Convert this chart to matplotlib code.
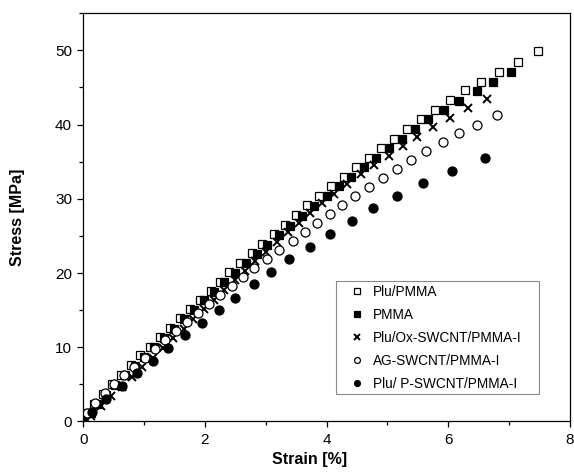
import matplotlib.pyplot as plt
from matplotlib.patches import Rectangle
from matplotlib.ticker import MultipleLocator

plt.rcParams['font.family'] = ['Liberation Sans', 'DejaVu Sans']

# Plu/PMMA (open squares)
plu_pmma_x = [0, 0.08, 0.18, 0.32, 0.47, 0.62, 0.78, 0.94, 1.10, 1.26, 1.43, 1.59, 1.75, 1.92, 2.10, 2.25,
              2.40, 2.58, 2.77, 2.94, 3.13, 3.32, 3.50, 3.68, 3.88, 4.07, 4.28, 4.48, 4.69, 4.89, 5.10,
              5.32, 5.55, 5.78, 6.03, 6.28, 6.54, 6.84, 7.15, 7.47]
plu_pmma_y = [0, 1.2, 2.4, 3.7, 5.0, 6.3, 7.6, 8.9, 10.1, 11.4, 12.6, 13.9, 15.1, 16.4, 17.6, 18.8,
              20.1, 21.4, 22.7, 23.9, 25.2, 26.5, 27.8, 29.1, 30.4, 31.7, 32.9, 34.3, 35.5, 36.9, 38.1,
              39.4, 40.7, 42.0, 43.3, 44.6, 45.8, 47.1, 48.4, 49.9]

# PMMA (filled squares)
pmma_x = [0, 0.12, 0.24, 0.38, 0.53, 0.69, 0.85, 1.00, 1.17, 1.33, 1.49, 1.66, 1.82, 1.99, 2.15, 2.32,
          2.49, 2.67, 2.85, 3.02, 3.21, 3.40, 3.60, 3.80, 4.00, 4.21, 4.40, 4.61, 4.81, 5.02, 5.24,
          5.46, 5.67, 5.93, 6.18, 6.48, 6.74, 7.03]
pmma_y = [0, 1.1, 2.3, 3.6, 4.9, 6.2, 7.5, 8.7, 10.0, 11.3, 12.5, 13.8, 15.0, 16.3, 17.5, 18.8,
          20.0, 21.3, 22.6, 23.8, 25.1, 26.4, 27.7, 29.0, 30.4, 31.7, 32.9, 34.3, 35.5, 36.8, 38.1,
          39.4, 40.7, 41.9, 43.2, 44.5, 45.8, 47.1]

# Plu/Ox-SWCNT/PMMA-I (crosses)
ox_x = [0, 0.12, 0.29, 0.46, 0.63, 0.80, 0.97, 1.14, 1.31, 1.48, 1.65, 1.81, 1.98, 2.15, 2.32, 2.49,
        2.66, 2.83, 3.00, 3.18, 3.36, 3.54, 3.73, 3.92, 4.12, 4.34, 4.56, 4.78, 5.02, 5.25, 5.49,
        5.75, 6.03, 6.32, 6.64]
ox_y = [0, 0.8, 2.1, 3.4, 4.7, 6.0, 7.3, 8.6, 9.9, 11.2, 12.5, 13.8, 15.1, 16.4, 17.7, 19.0,
        20.3, 21.6, 22.9, 24.2, 25.5, 26.8, 28.1, 29.4, 30.7, 32.0, 33.3, 34.5, 35.8, 37.1, 38.3,
        39.7, 40.9, 42.2, 43.5]

# AG-SWCNT/PMMA-I (open circles)
ag_x = [0, 0.07, 0.20, 0.35, 0.51, 0.67, 0.84, 1.01, 1.18, 1.35, 1.53, 1.71, 1.89, 2.07, 2.25, 2.44,
        2.62, 2.81, 3.02, 3.22, 3.44, 3.64, 3.84, 4.05, 4.25, 4.47, 4.70, 4.92, 5.15, 5.39, 5.64,
        5.91, 6.18, 6.48, 6.80]
ag_y = [0, 1.2, 2.5, 3.8, 5.0, 6.2, 7.4, 8.6, 9.8, 11.0, 12.2, 13.4, 14.6, 15.8, 17.0, 18.3,
        19.5, 20.7, 21.9, 23.1, 24.3, 25.5, 26.7, 27.9, 29.2, 30.4, 31.6, 32.8, 34.0, 35.2, 36.4,
        37.6, 38.8, 40.0, 41.3]

# Plu/ P-SWCNT/PMMA-I (filled circles)
p_x = [0, 0.15, 0.38, 0.63, 0.89, 1.14, 1.39, 1.67, 1.95, 2.23, 2.49, 2.80, 3.08, 3.39, 3.73, 4.06,
       4.41, 4.77, 5.16, 5.59, 6.06, 6.61]
p_y = [0, 1.3, 3.0, 4.8, 6.5, 8.2, 9.9, 11.6, 13.3, 15.0, 16.7, 18.5, 20.2, 21.9, 23.5, 25.2,
       27.0, 28.7, 30.4, 32.1, 33.8, 35.5]

fig = plt.figure(figsize=(5.74, 4.72), dpi=100)
ax = fig.add_axes([0.145, 0.107, 0.848, 0.865])

ax.plot(plu_pmma_x, plu_pmma_y, 's', ms=6, mfc='white', mec='black', mew=0.9, label='Plu/PMMA')
ax.plot(pmma_x, pmma_y, 's', ms=6, mfc='black', mec='black', mew=0.9, label='PMMA')
ax.plot(ox_x, ox_y, 'x', ms=6, color='black', mew=1.4, label='Plu/Ox-SWCNT/PMMA-I')
ax.plot(ag_x, ag_y, 'o', ms=6.5, mfc='white', mec='black', mew=0.9, label='AG-SWCNT/PMMA-I')
ax.plot(p_x, p_y, 'o', ms=6.5, mfc='black', mec='black', mew=0.9, label='Plu/ P-SWCNT/PMMA-I')

ax.set_xlim(0, 8)
ax.set_ylim(0, 55)
ax.xaxis.set_major_locator(MultipleLocator(2))
ax.xaxis.set_minor_locator(MultipleLocator(1))
ax.yaxis.set_major_locator(MultipleLocator(10))
ax.yaxis.set_minor_locator(MultipleLocator(5))
ax.tick_params(which='major', direction='out', length=4, width=0.9, labelsize=11, pad=4)
ax.tick_params(which='minor', direction='out', length=3, width=0.9)
for s in ax.spines.values():
    s.set_linewidth(0.9)

ax.set_xlabel('Strain [%]', fontsize=11.5, fontweight='bold', labelpad=8)
ax.xaxis.set_label_coords(0.466, -0.075)
ax.set_ylabel('Stress [MPa]', fontsize=11.5, fontweight='bold', labelpad=22)

# legend box drawn separately so the padding matches
ax.add_patch(Rectangle((0.519, 0.067), 0.417, 0.278, transform=ax.transAxes, facecolor='white',
                       edgecolor='#888888', linewidth=0.8, zorder=4))
leg = ax.legend(loc='center left', bbox_to_anchor=(0.543, 0.205), fontsize=9.8, frameon=False,
                labelspacing=0.67, handlelength=1.4, handletextpad=0.48, borderpad=0,
                markerscale=0.65, borderaxespad=0)
leg.set_zorder(5)

fig.savefig('out.png', dpi=100)
